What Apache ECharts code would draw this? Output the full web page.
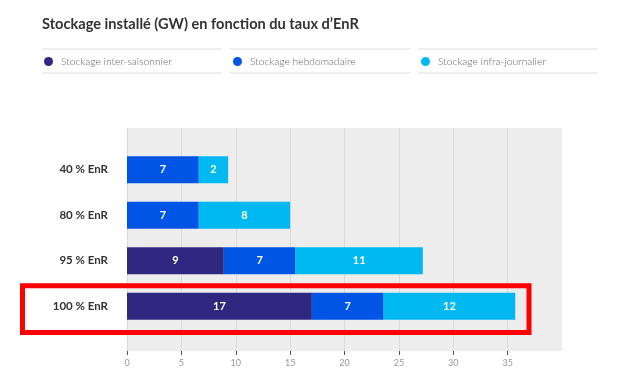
<!DOCTYPE html>
<html>
<head>
<meta charset="utf-8">
<script src="https://cdn.jsdelivr.net/npm/echarts@6/dist/echarts.min.js"></script>
<style>html,body{margin:0;padding:0;background:#fff}#c{width:627px;height:386px}</style>
</head>
<body>
<div id="c"></div>
<script>
const categories = ['40 % EnR', '80 % EnR', '95 % EnR', '100 % EnR'];
const seriesNames = ['Stockage inter-saisonnier', 'Stockage hebdomadaire', 'Stockage infra-journalier'];
const interSaisonnier = [null, null, 8.9, 17.0];
const hebdomadaire = [6.6, 6.6, 6.6, 6.6];
const infraJournalier = [2.7, 8.4, 11.7, 12.1];
const interLabels = ['', '', '9', '17'];
const hebdoLabels = ['7', '7', '7', '7'];
const infraLabels = ['2', '8', '11', '12'];
const xTicks = [0, 5, 10, 15, 20, 25, 30, 35];

const colors = ['#2e2880', '#0055e5', '#00b9f1'];
const FONT = 'Lato';

const chart = echarts.init(document.getElementById('c'), null, {renderer: 'canvas'});

function barSeries(name, data, labels, color) {
  return {
    name: name, type: 'bar', stack: 'total', xAxisIndex: 1, yAxisIndex: 1,
    barWidth: 27, data: data,
    itemStyle: {color: color},
    label: {
      show: true, position: 'inside', color: '#fff', fontWeight: 'bold',
      fontSize: 11, fontFamily: FONT,
      formatter: p => labels[p.dataIndex]
    },
    emphasis: {disabled: true}
  };
}

const legendLefts = [44, 233, 421];
const legends = seriesNames.map((n, i) => ({
  data: [n], left: legendLefts[i], top: 56.5, padding: 0, icon: 'circle',
  itemWidth: 9, itemHeight: 9, selectedMode: false,
  textStyle: {color: '#666', fontSize: 10.3, fontFamily: FONT, fontWeight: 300, padding: [0, 0, 0, 3]}
}));

const sepSegs = [[42, 221], [230, 410], [418, 597]];
const graphics = [];
sepSegs.forEach(s => {
  [49, 73].forEach(y => graphics.push({
    type: 'line', shape: {x1: s[0], y1: y, x2: s[1], y2: y},
    style: {stroke: '#e8e8e8', lineWidth: 1.5}
  }));
});
graphics.push({
  type: 'rect', shape: {x: 22.5, y: 285.8, width: 506.5, height: 46.7},
  style: {fill: 'none', stroke: '#ff0000', lineWidth: 5}, z: 100
});

chart.setOption({
  animation: false,
  title: {
    text: 'Stockage installé (GW) en fonction du taux d’EnR',
    left: 42, top: 17, padding: 0,
    textStyle: {fontFamily: FONT, fontSize: 14.6, fontWeight: 'bold', color: '#333'}
  },
  legend: legends,
  graphic: graphics,
  grid: [
    {left: 127, right: 65, top: 128, bottom: 35, show: true, backgroundColor: '#ededed', borderWidth: 0},
    {left: 127, right: 65, top: 147, bottom: 57}
  ],
  xAxis: [
    {
      gridIndex: 0, type: 'value', min: 0, max: 40, interval: 5,
      axisLine: {show: false},
      axisTick: {show: true, length: 4, lineStyle: {color: '#555'}, customValues: xTicks},
      axisLabel: {color: '#999', fontSize: 9, fontFamily: FONT, margin: 8, customValues: xTicks},
      splitLine: {show: true, lineStyle: {color: '#dadada', width: 1}}
    },
    {gridIndex: 1, type: 'value', min: 0, max: 40, show: false}
  ],
  yAxis: [
    {gridIndex: 0, type: 'value', show: false},
    {
      gridIndex: 1, type: 'category', data: categories, inverse: true,
      axisLine: {show: false}, axisTick: {show: false},
      axisLabel: {color: '#333', fontSize: 11.5, fontWeight: 'bold', fontFamily: FONT, margin: 19}
    }
  ],
  series: [
    barSeries(seriesNames[0], interSaisonnier, interLabels, colors[0]),
    barSeries(seriesNames[1], hebdomadaire, hebdoLabels, colors[1]),
    barSeries(seriesNames[2], infraJournalier, infraLabels, colors[2])
  ]
});
</script>
</body>
</html>
